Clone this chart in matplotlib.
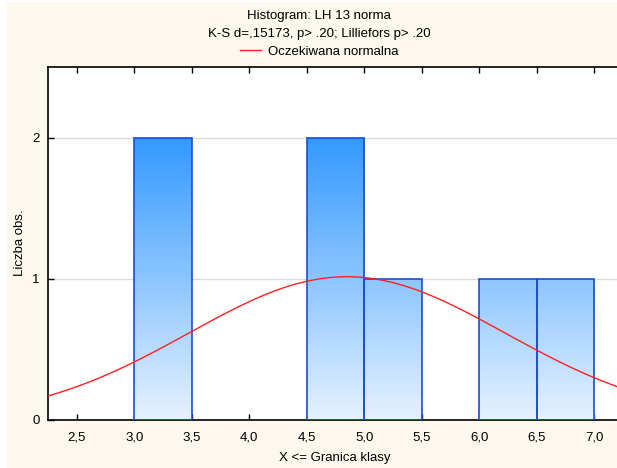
import numpy as np
import matplotlib
matplotlib.use("Agg")
import matplotlib.pyplot as plt
from matplotlib.patches import Rectangle
from matplotlib.lines import Line2D

plt.rcParams['font.family'] = ['Liberation Sans', 'DejaVu Sans']
plt.rcParams['font.size'] = 9.5

# histogram data (class boundaries and counts)
bin_left = [3.0, 4.5, 5.0, 6.0, 6.5]
bin_width = 0.5
counts = [2, 2, 1, 1, 1]
n_obs = 7
mean_est = 4.85
sd_est = 1.376

xticks = [2.5, 3.0, 3.5, 4.0, 4.5, 5.0, 5.5, 6.0, 6.5, 7.0]
xtick_labels = ['2,5', '3,0', '3,5', '4,0', '4,5', '5,0', '5,5', '6,0', '6,5', '7,0']
yticks = [0, 1, 2]

fig = plt.figure(figsize=(6.17, 4.68), dpi=100)
fig.patch.set_facecolor('white')
# cream panel behind the chart
fig.patches.append(Rectangle((7 / 617, 0), 1 - 7 / 617, 466 / 468, transform=fig.transFigure,
                             facecolor='#fdf8ee', edgecolor='none', zorder=-5))

ax = fig.add_axes([48 / 617, 48 / 468, 1 - 48 / 617, 353 / 468])
ax.set_facecolor('white')

for y in [1, 2]:
    ax.axhline(y, color='#dcdcdc', lw=1, zorder=1)

# gradient: dark blue at count 2, very light at 0
cmap = matplotlib.colors.LinearSegmentedColormap.from_list('g', ['#e6f2ff', '#3399ff'])
grad = np.linspace(0, 1, 256).reshape(-1, 1)
for left, c in zip(bin_left, counts):
    rect = Rectangle((left, 0), bin_width, c, facecolor='none', edgecolor='#1a4fcc',
                     lw=1.2, zorder=3)
    ax.add_patch(rect)
    im = ax.imshow(grad, cmap=cmap, origin='lower', aspect='auto',
                   extent=(left, left + bin_width, 0, 2), zorder=2, interpolation='bilinear')
    im.set_clip_path(rect)
ax.set_xlim(2.25, 2.25 + (617 - 48) / 115)
ax.set_ylim(0, 2.5)

xs = np.linspace(2.25, 7.25, 400)
expected = n_obs * bin_width / (sd_est * np.sqrt(2 * np.pi)) * np.exp(-0.5 * ((xs - mean_est) / sd_est) ** 2)
ax.plot(xs, expected, color='#ff2020', lw=1, zorder=4)

ax.set_xticks(xticks)
ax.set_xticklabels(xtick_labels)
ax.set_yticks(yticks)
ax.tick_params(direction='in', length=4, width=1, top=True, labelsize=9.5, pad=8)
ax.tick_params(axis='y', pad=6)
for s in ['left', 'bottom', 'top']:
    ax.spines[s].set_linewidth(1.2)
ax.spines['right'].set_visible(False)

fig.text(20 / 617, 1 - 243 / 468, 'Liczba obs.', rotation=90, ha='center', va='center')
fig.text(335 / 617, 1 - 458 / 468, 'X <= Granica klasy', ha='center', va='center')
fig.text(319 / 617, 1 - 16 / 468, 'Histogram: LH 13 norma', ha='center', va='center')
fig.text(319 / 617, 1 - 34 / 468, 'K-S d=,15173, p> .20; Lilliefors p> .20', ha='center', va='center')
handle = Line2D([], [], color='#ff2020', lw=1)
fig.legend([handle], ['Oczekiwana normalna'], loc='center', bbox_to_anchor=(319 / 617, 1 - 52 / 468),
           frameon=False, handlelength=1.6, handletextpad=0.5, borderpad=0)

fig.savefig('out.png', dpi=100, facecolor=fig.get_facecolor())
